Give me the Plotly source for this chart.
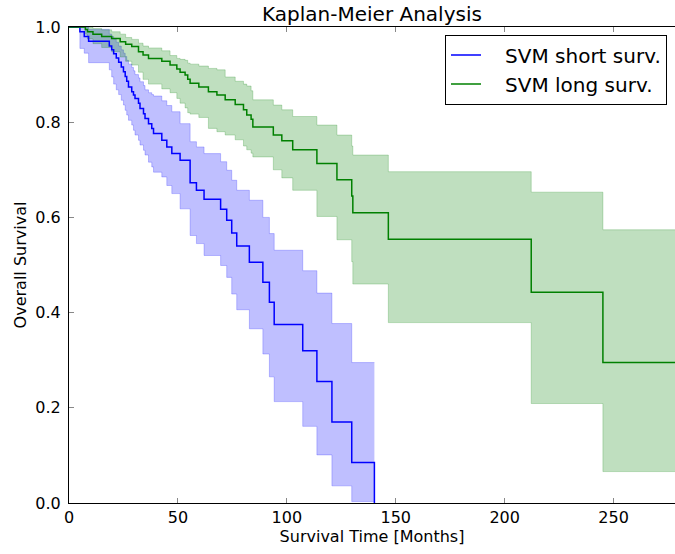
import plotly.graph_objects as go

# ---- data ----
blue_time = [0, 5.0, 7.0, 9.0, 18.5, 19.6, 20.5, 21.7, 22.8, 24.0, 25.0, 25.8, 26.5, 27.3, 28.8,
             29.6, 30.3, 31.9, 32.6, 34.2, 34.9, 36.5, 38.0, 38.8, 42.6, 44.9, 47.2, 51.0, 55.6,
             58.5, 62.0, 69.6, 72.4, 74.7, 77.0, 82.8, 89.0, 92.0, 94.2, 107.3, 113.8, 120.7,
             129.8, 140.2]
blue_surv = [1.0, 0.99, 0.98, 0.97, 0.96, 0.952, 0.944, 0.935, 0.926, 0.916, 0.906, 0.896, 0.886,
             0.874, 0.864, 0.857, 0.85, 0.84, 0.829, 0.818, 0.808, 0.797, 0.787, 0.776, 0.762,
             0.748, 0.734, 0.72, 0.673, 0.657, 0.638, 0.617, 0.594, 0.567, 0.540, 0.506, 0.464,
             0.422, 0.375, 0.320, 0.255, 0.170, 0.085, 0.0]
blue_lower = [1.0, 0.955, 0.945, 0.925, 0.91, 0.895, 0.88, 0.868, 0.858, 0.846, 0.836, 0.825, 0.815,
              0.804, 0.794, 0.783, 0.773, 0.762, 0.752, 0.741, 0.731, 0.716, 0.706, 0.695, 0.685,
              0.667, 0.65, 0.618, 0.562, 0.545, 0.52, 0.499, 0.474, 0.439, 0.406, 0.366, 0.313,
              0.265, 0.213, 0.161, 0.101, 0.036, 0.003, 0.003]
blue_upper = [1.0, 1.0, 1.0, 0.995, 0.985, 0.98, 0.975, 0.968, 0.96, 0.952, 0.945, 0.938, 0.93,
              0.922, 0.915, 0.908, 0.9, 0.893, 0.885, 0.877, 0.868, 0.862, 0.858, 0.855, 0.845,
              0.835, 0.822, 0.797, 0.759, 0.748, 0.734, 0.717, 0.699, 0.678, 0.657, 0.636, 0.60,
              0.566, 0.531, 0.488, 0.441, 0.377, 0.295, 0.295]

green_time = [0, 7.5, 8.5, 11.0, 15.0, 19.6, 23.5, 26.0, 28.8, 31.9, 34.0, 36.5, 42.6, 46.4, 49.5,
              51.0, 53.3, 54.5, 55.6, 59.6, 64.0, 67.9, 71.7, 76.3, 80.1, 81.6, 83.6, 84.4, 93.8,
              97.7, 102.7, 113.8, 123.0, 129.8, 130.3, 146.6, 212.2, 245.1, 280.0]
green_surv = [1.0, 0.995, 0.99, 0.985, 0.98, 0.976, 0.969, 0.964, 0.959, 0.948, 0.941, 0.934, 0.928,
              0.92, 0.912, 0.905, 0.899, 0.89, 0.882, 0.874, 0.864, 0.857, 0.847, 0.837, 0.826,
              0.815, 0.806, 0.79, 0.773, 0.761, 0.742, 0.713, 0.679, 0.645, 0.61, 0.554, 0.443,
              0.295, 0.295]
green_lower = [1.0, 0.985, 0.975, 0.965, 0.957, 0.948, 0.937, 0.928, 0.92, 0.905, 0.89, 0.88, 0.87,
               0.862, 0.85, 0.84, 0.83, 0.82, 0.817, 0.81, 0.787, 0.78, 0.773, 0.763, 0.75, 0.742,
               0.735, 0.727, 0.70, 0.683, 0.657, 0.602, 0.553, 0.507, 0.46, 0.379, 0.209, 0.066,
               0.066]
green_upper = [1.0, 1.0, 1.0, 0.997, 0.994, 0.99, 0.985, 0.978, 0.974, 0.966, 0.96, 0.956, 0.95,
               0.94, 0.934, 0.932, 0.93, 0.924, 0.922, 0.918, 0.913, 0.91, 0.895, 0.886, 0.88,
               0.876, 0.866, 0.847, 0.836, 0.826, 0.812, 0.794, 0.773, 0.75, 0.731, 0.696, 0.653,
               0.574, 0.574]

x_ticks = [0, 50, 100, 150, 200, 250]
y_ticks = [0.0, 0.2, 0.4, 0.6, 0.8, 1.0]
y_tick_labels = ["0.0", "0.2", "0.4", "0.6", "0.8", "1.0"]

fig = go.Figure()


def add_band(t, lo, hi, edge, fill):
    fig.add_trace(go.Scatter(x=t, y=lo, mode="lines", line=dict(shape="hv", width=1, color=edge),
                             showlegend=False, hoverinfo="skip"))
    fig.add_trace(go.Scatter(x=t, y=hi, mode="lines", line=dict(shape="hv", width=1, color=edge),
                             fill="tonexty", fillcolor=fill, showlegend=False, hoverinfo="skip"))


add_band(blue_time, blue_lower, blue_upper, "rgba(0,0,255,0.22)", "rgba(0,0,255,0.25)")
add_band(green_time, green_lower, green_upper, "rgba(0,128,0,0.22)", "rgba(0,128,0,0.25)")

pad = "&nbsp;" * 3
fig.add_trace(go.Scatter(x=blue_time, y=blue_surv, mode="lines", name=pad + "SVM short surv.",
                         legendgroup="short",
                         line=dict(shape="hv", width=1.5, color="#0000ff")))
fig.add_trace(go.Scatter(x=green_time, y=green_surv, mode="lines", name=pad + "SVM long surv.",
                         legendgroup="long",
                         line=dict(shape="hv", width=1.5, color="#008000")))

fig.update_layout(
    width=675, height=554,
    margin=dict(l=69, r=0, t=27, b=51, autoexpand=False),
    paper_bgcolor="white", plot_bgcolor="white",
    font=dict(family="DejaVu Sans", size=16, color="black"),
    title=dict(text="Kaplan-Meier Analysis", x=0.5, xref="paper", xanchor="center",
               y=1 - 14 / 554, yref="container", yanchor="middle",
               font=dict(size=20, color="black")),
    legend=dict(x=0.9868, y=0.984, xanchor="right", yanchor="top", bordercolor="black",
                borderwidth=1, bgcolor="white", font=dict(size=20), itemwidth=30,
                traceorder="normal", tracegroupgap=4),
    xaxis=dict(range=[0, 278.2], tickvals=x_ticks, ticks="inside", ticklen=5, tickcolor="#888",
               showline=True, linecolor="black", linewidth=1, mirror="ticks", showgrid=False,
               zeroline=False, automargin=False, tickfont=dict(size=16),
               title=dict(text="Survival Time [Months]", standoff=3, font=dict(size=16)),
               ticklabelstandoff=0),
    yaxis=dict(range=[0, 1], tickvals=y_ticks, ticktext=y_tick_labels, ticks="inside",
               ticklen=5, tickcolor="#888", showline=True, linecolor="black", linewidth=1,
               showgrid=False, zeroline=False, automargin=False, tickfont=dict(size=16),
               title=dict(text="Overall Survival", standoff=4, font=dict(size=16)),
               ticklabelstandoff=4),
)

fig.write_html("out.html", config={"displayModeBar": False},
               post_script="document.body.style.margin='0';document.body.style.overflow='hidden';")
